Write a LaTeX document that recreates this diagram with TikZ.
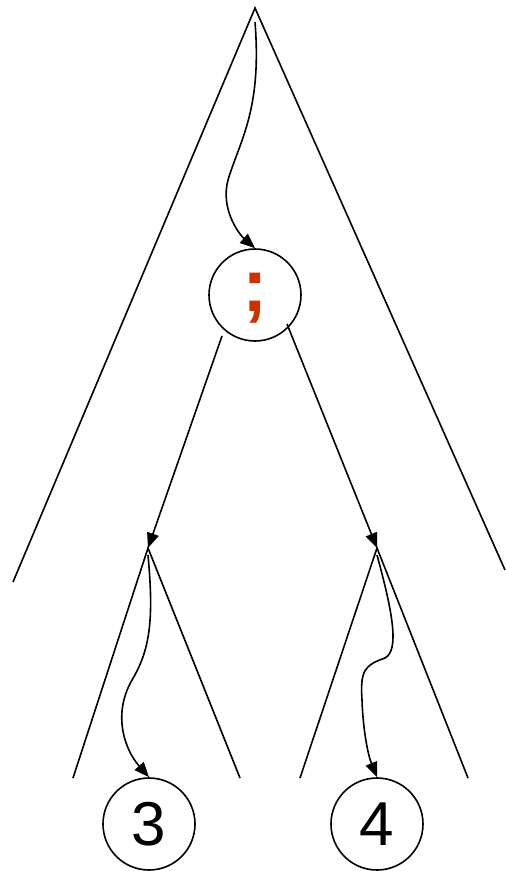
\documentclass[tikz,border=0pt]{standalone}
\usepackage{fontspec}
\setmainfont{Liberation Sans}
\usetikzlibrary{arrows.meta}
\definecolor{semired}{HTML}{CC3300}
\begin{document}
\begin{tikzpicture}[x=1pt,y=-1pt,
  edge/.style={line width=1.6pt},
  arr/.style={line width=1.6pt,-{Triangle[length=15pt,width=12pt]}},
  nodecirc/.style={circle,draw,line width=1.6pt,minimum size=92pt,inner sep=0pt}]
\useasboundingbox (0,0) rectangle (506,871);
% big triangle
\coordinate (apex) at (255,8);
\coordinate (bl) at (13,582);
\coordinate (br) at (505,570);
\draw[edge] (bl) -- (apex) -- (br);
\node[nodecirc] (semi) at (255,295) {};
\node[text=semired,font=\bfseries\fontsize{76}{76}\selectfont] (semitxt) at (255,298) {;};
\coordinate (s1) at (255,22);
\draw[arr] (s1) .. controls (262,110) and (240,140) .. (228,180) .. controls (220,210) and (240,235) .. (semi.north);
% subtrees
\coordinate (la) at (148,548);
\coordinate (ra) at (377,548);
\coordinate (sl) at (222,336);
\coordinate (sr) at (287,324);
\draw[arr] (sl) -- (la);
\draw[arr] (sr) -- (ra);
\coordinate (lbl) at (73,778);
\coordinate (lbr) at (240,778);
\coordinate (rbl) at (300,778);
\coordinate (rbr) at (468,778);
\draw[edge] (lbl) -- (la) -- (lbr);
\draw[edge] (rbl) -- (ra) -- (rbr);
\node[nodecirc,font=\fontsize{62}{62}\selectfont] (n3) at (149,824) {3};
\node[nodecirc,font=\fontsize{62}{62}\selectfont] (n4) at (377,824) {4};
\coordinate (l1) at (148,555);
\coordinate (r1) at (377,555);
\draw[arr] (l1) .. controls (154,620) and (150,650) .. (132,680) .. controls (112,715) and (125,750) .. (n3.north);
\draw[arr] (r1) .. controls (392,610) and (400,650) .. (385,658) .. controls (365,665) and (360,670) .. (362,700) .. controls (363,730) and (368,755) .. (n4.north);
\end{tikzpicture}
\end{document}
